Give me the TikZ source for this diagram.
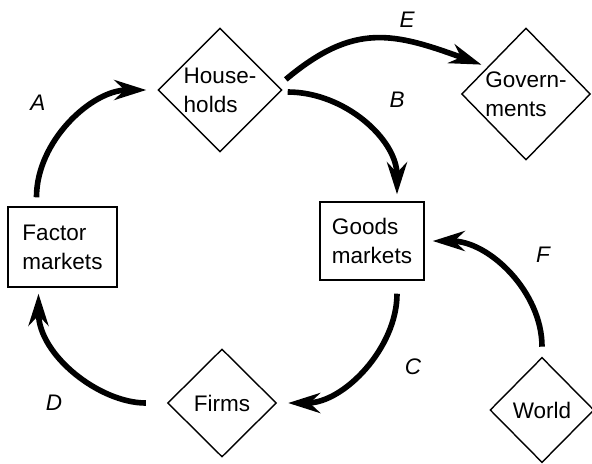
\documentclass[tikz,border=0pt]{standalone}
\usepackage{fontspec}
\setmainfont{Liberation Sans}
\usepackage{tikz}
\usetikzlibrary{arrows.meta,shapes.geometric}

\begin{document}
\begin{tikzpicture}[x=0.025cm,y=-0.025cm,line width=1pt,
    txt/.style={font=\fontsize{16}{20.5}\selectfont},
    sector/.style={txt,draw,diamond,inner sep=0pt,align=left},
    market/.style={txt,draw,rectangle,inner sep=0pt,align=left},
    flow/.style={line width=4pt,-{Stealth[length=0.8cm,width=0.5cm]}},
    flowlbl/.style={txt,font=\fontsize{16}{20.5}\selectfont\itshape}]
          \useasboundingbox (0,0) rectangle (592,463);
          \node[sector,minimum width=3.1cm,minimum height=3.1cm] (hh) at (220,90) {House-\\holds};
          \node[sector,minimum width=3.22cm,minimum height=3.3cm] (gov) at (526,94) {Govern-\\ments};
          \node[market,minimum width=2.72cm,minimum height=2cm] (fm) at (62.5,247) {Factor\\markets};
          \node[market,minimum width=2.6cm,minimum height=1.95cm] (gm) at (372,241) {Goods\\markets};
          \node[sector,minimum width=2.72cm,minimum height=2.7cm] (firms) at (222,403) {Firms};
          \node[sector,minimum width=2.6cm,minimum height=2.63cm] (world) at (542,410) {World};

          \draw[flow,shorten <=0.225cm,shorten >=0.275cm] ([xshift=-0.65cm]fm.north) to[out=90,in=180] (hh.west);
          \draw[flow,shorten <=0.1cm] ([yshift=0.2cm]hh.east) to[out=40,in=160,looseness=1.2] ([shift={(-0.3cm,-0.1cm)}]gov.north west);
          \draw[flow,shorten <=0.125cm,shorten >=0.175cm] ([yshift=-0.05cm]hh.east) to[out=0,in=90] ([xshift=0.625cm]gm.north);
          \draw[flow,shorten <=0.325cm,shorten >=0.275cm] ([xshift=0.625cm]gm.south) to[out=-90,in=0] (firms.east);
          \draw[flow,shorten <=0.525cm,shorten >=0.15cm] (firms.west) to[out=180,in=-90] ([xshift=-0.6cm]fm.south);
          \draw[flow,shorten <=0.25cm,shorten >=0.2cm] (world.north) to[out=90,in=0] (gm.east);

          \path (38,103)node[flowlbl]{A} (407,20)node[flowlbl]{E} (397,100)node[flowlbl]{B}
                (413,367)node[flowlbl]{C} (54,403)node[flowlbl]{D} (543,255)node[flowlbl]{F};
        \end{tikzpicture}
\end{document}
